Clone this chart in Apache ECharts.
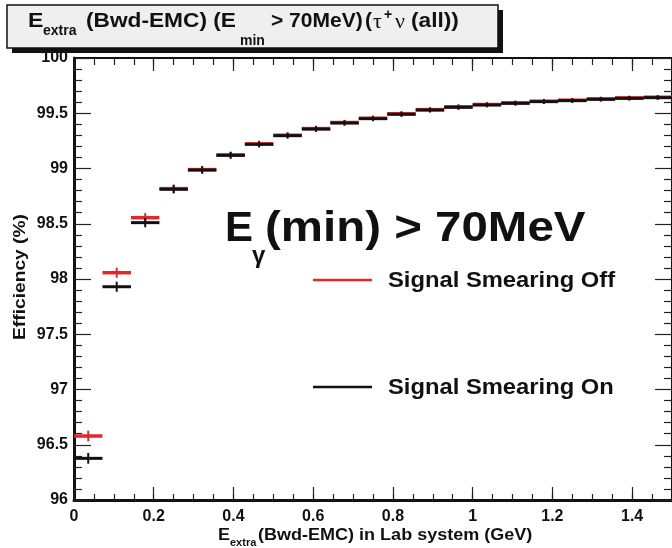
<!DOCTYPE html>
<html>
<head>
<meta charset="utf-8">
<script src="https://cdn.jsdelivr.net/npm/echarts@6/dist/echarts.min.js"></script>
<style>
  html, body { margin: 0; padding: 0; background: #ffffff; }
  #chart { width: 672px; height: 548px; }
</style>
</head>
<body>
<div id="chart"></div>
<script>
// Bin edges of E_extra (GeV), 21 bins over 0 - 1.5
const binEdges = [0, 0.0714, 0.1429, 0.2143, 0.2857, 0.3571, 0.4286, 0.5, 0.5714, 0.6429,
  0.7143, 0.7857, 0.8571, 0.9286, 1.0, 1.0714, 1.1429, 1.2143, 1.2857, 1.3571, 1.4286, 1.5];

// Cumulative efficiency (%) per bin
const effSmearOff = [96.579, 98.057, 98.555, 98.818, 98.990, 99.123, 99.223, 99.301, 99.361, 99.416,
  99.455, 99.495, 99.533, 99.558, 99.579, 99.594, 99.609, 99.618, 99.630, 99.639, 99.645];
const effSmearOn = [96.377, 97.930, 98.510, 98.812, 98.986, 99.119, 99.219, 99.297, 99.357, 99.412,
  99.451, 99.491, 99.529, 99.554, 99.575, 99.590, 99.605, 99.614, 99.626, 99.635, 99.641];

// Statistical uncertainty (%) per bin
const errSmearOff = [0.035, 0.032, 0.028, 0.024, 0.020, 0.017, 0.015, 0.013, 0.012, 0.011,
  0.010, 0.010, 0.009, 0.009, 0.008, 0.008, 0.008, 0.008, 0.007, 0.007, 0.007];
const errSmearOn = [0.035, 0.032, 0.028, 0.024, 0.020, 0.017, 0.015, 0.013, 0.012, 0.011,
  0.010, 0.010, 0.009, 0.009, 0.008, 0.008, 0.008, 0.008, 0.007, 0.007, 0.007];

// Axis ranges and tick steps
const xRange = [0, 1.5];
const xMajorStep = 0.2;
const xMinorStep = 0.05;
const yRange = [96, 100];
const yMajorStep = 0.5;
const yMinorSplit = 5;

const legendEntries = ['Signal Smearing Off', 'Signal Smearing On'];
const colorOff = '#dd2a2a';
const colorOn = '#111111';

const FONT = '"Liberation Sans", Arial, Helvetica, sans-serif';
const SERIF = '"Liberation Serif", "DejaVu Serif", serif';

function binData(eff, err) {
  return eff.map((v, i) => [binEdges[i], binEdges[i + 1], v, err[i]]);
}

function binRenderer(color, width) {
  return function (params, api) {
    const lo = api.value(0), hi = api.value(1), v = api.value(2), e = api.value(3);
    const mid = (lo + hi) / 2;
    const a = api.coord([lo, v]);
    const b = api.coord([hi, v]);
    const t = api.coord([mid, v + e]);
    const u = api.coord([mid, v - e]);
    return {
      type: 'group',
      children: [
        { type: 'line', shape: { x1: a[0], y1: a[1], x2: b[0], y2: b[1] },
          style: { stroke: color, lineWidth: width } },
        { type: 'line', shape: { x1: t[0], y1: t[1] - 1.5, x2: u[0], y2: u[1] + 1.5 },
          style: { stroke: color, lineWidth: 2 } }
      ]
    };
  };
}

function txt(text, x, y, size, opts) {
  opts = opts || {};
  return {
    type: 'text', x: x, y: y, z: 200,
    scaleX: opts.sx || 1, rotation: opts.rot || 0,
    style: {
      text: text,
      font: (opts.weight || 'bold') + ' ' + size + 'px ' + (opts.family || FONT),
      fill: opts.fill || '#111',
      textAlign: opts.align || 'left',
      textVerticalAlign: 'middle'
    }
  };
}

const grid = { left: 74, top: 58, width: 603, height: 442 };
const tickStyle = { color: '#222', width: 1.2 };

const chart = echarts.init(document.getElementById('chart'), null, { renderer: 'canvas' });

chart.setOption({
  animation: false,
  backgroundColor: '#ffffff',
  grid: grid,
  xAxis: [
    { type: 'value', position: 'bottom', min: xRange[0], max: xRange[1], interval: xMajorStep,
      axisLine: { show: true, onZero: false, lineStyle: { color: '#111', width: 3 } },
      axisTick: { show: true, inside: true, length: 13, lineStyle: tickStyle },
      axisLabel: { show: true, showMaxLabel: false, margin: 9, fontSize: 16, fontWeight: 'bold',
        fontFamily: FONT, color: '#111' },
      splitLine: { show: false } },
    { type: 'value', position: 'bottom', min: xRange[0], max: xRange[1], interval: xMinorStep,
      axisLine: { show: false, onZero: false },
      axisTick: { show: true, inside: true, length: 6, lineStyle: tickStyle },
      axisLabel: { show: false }, splitLine: { show: false } },
    { type: 'value', position: 'top', min: xRange[0], max: xRange[1], interval: xMajorStep,
      axisLine: { show: true, onZero: false, lineStyle: { color: '#111', width: 2 } },
      axisTick: { show: true, inside: true, length: 13, lineStyle: tickStyle },
      axisLabel: { show: false }, splitLine: { show: false } },
    { type: 'value', position: 'top', min: xRange[0], max: xRange[1], interval: xMinorStep,
      axisLine: { show: false, onZero: false },
      axisTick: { show: true, inside: true, length: 7, lineStyle: tickStyle },
      axisLabel: { show: false }, splitLine: { show: false } }
  ],
  yAxis: [
    { type: 'value', position: 'left', min: yRange[0], max: yRange[1], interval: yMajorStep,
      axisLine: { show: true, onZero: false, lineStyle: { color: '#111', width: 3 } },
      axisTick: { show: true, inside: true, length: 17, lineStyle: tickStyle },
      minorTick: { show: true, splitNumber: yMinorSplit, length: 8, lineStyle: tickStyle },
      axisLabel: { show: true, margin: 6, fontSize: 16, fontWeight: 'bold', fontFamily: FONT, color: '#111' },
      splitLine: { show: false } },
    { type: 'value', position: 'right', min: yRange[0], max: yRange[1], interval: yMajorStep,
      axisLine: { show: true, onZero: false, lineStyle: { color: '#111', width: 2 } },
      axisTick: { show: true, inside: true, length: 17, lineStyle: tickStyle },
      minorTick: { show: true, splitNumber: yMinorSplit, length: 8, lineStyle: tickStyle },
      axisLabel: { show: false }, splitLine: { show: false } }
  ],
  series: [
    { name: legendEntries[0], type: 'custom', xAxisIndex: 0, yAxisIndex: 0, z: 3,
      encode: { x: [0, 1], y: 2 }, renderItem: binRenderer(colorOff, 3.5),
      data: binData(effSmearOff, errSmearOff) },
    { name: legendEntries[1], type: 'custom', xAxisIndex: 0, yAxisIndex: 0, z: 4,
      encode: { x: [0, 1], y: 2 }, renderItem: binRenderer(colorOn, 3),
      data: binData(effSmearOn, errSmearOn) }
  ],
  graphic: [
    // title box with drop shadow
    { type: 'rect', z: 190, shape: { x: 12, y: 10, width: 491, height: 43 }, style: { fill: '#111' } },
    { type: 'rect', z: 191, shape: { x: 7, y: 5, width: 491, height: 43 },
      style: { fill: '#efefef', stroke: '#111', lineWidth: 1.5 } },
    txt('E', 28, 21, 21, { sx: 1.1 }),
    txt('extra', 43, 31, 14),
    txt('(Bwd-EMC) (E', 86, 21, 21, { sx: 1.08 }),
    txt('min', 240, 41, 14),
    txt('> 70MeV)', 271, 21, 21, { sx: 1.0 }),
    txt('(', 365, 21, 21),
    txt('\u03C4', 373, 22, 22, { weight: 'normal', family: SERIF }),
    txt('+', 384, 15, 14),
    txt('\u03BD', 395, 22, 22, { weight: 'normal', family: SERIF }),
    txt('(all))', 411, 21, 21, { sx: 1.08 }),

    // big annotation
    txt('E', 225, 229.5, 42),
    txt('\u03B3', 252, 256, 24),
    txt('(min) > 70MeV', 265, 229.5, 42, { sx: 1.13 }),

    // legend
    { type: 'line', z: 200, shape: { x1: 313, y1: 280, x2: 372, y2: 280 },
      style: { stroke: colorOff, lineWidth: 2.5 } },
    txt(legendEntries[0], 388, 281, 22, { sx: 1.08 }),
    { type: 'line', z: 200, shape: { x1: 313, y1: 387, x2: 372, y2: 387 },
      style: { stroke: colorOn, lineWidth: 2.5 } },
    txt(legendEntries[1], 388, 387.5, 22, { sx: 1.08 }),

    // axis titles
    txt('E', 218, 535.5, 17, { sx: 1.06 }),
    txt('extra', 230, 543, 11),
    txt('(Bwd-EMC) in Lab system (GeV)', 258, 535.5, 17, { sx: 1.06 }),
    txt('Efficiency (%)', 21, 277, 16, { rot: Math.PI / 2, align: 'center', sx: 1.2 })
  ]
});
</script>
</body>
</html>
